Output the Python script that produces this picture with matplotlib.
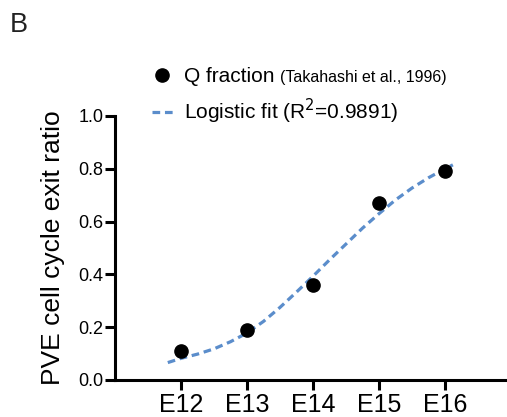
import matplotlib
matplotlib.use("Agg")
import matplotlib.pyplot as plt
import numpy as np

# ----------------- Data -----------------
stages = ["E12", "E13", "E14", "E15", "E16"]
stage_x = [12, 13, 14, 15, 16]
q_fraction = [0.11, 0.19, 0.36, 0.67, 0.79]

# logistic fit curve
fit_x = [11.8, 12.0, 12.25, 12.5, 12.75, 13.0, 13.25, 13.5, 13.75, 14.0,
         14.25, 14.5, 14.75, 15.0, 15.25, 15.5, 15.75, 16.0, 16.12]
fit_y = [0.066, 0.082, 0.098, 0.118, 0.145, 0.178, 0.222, 0.275, 0.333, 0.393,
         0.455, 0.515, 0.575, 0.630, 0.682, 0.727, 0.766, 0.800, 0.815]

R2 = 0.9891
FIT_COLOR = "#5B8DCB"

plt.rcParams["font.family"] = ["Liberation Sans", "DejaVu Sans"]

W, H = 507, 417
fig = plt.figure(figsize=(W / 100, H / 100), dpi=100)
ax = fig.add_axes([115 / W, (H - 380) / H, (W - 115) / W, (380 - 116) / H])

# ----------------- Marks -----------------
ax.plot(fit_x, fit_y, color=FIT_COLOR, linewidth=2.3, linestyle=(0, (2.4, 1.5)),
        label=f"Logistic fit (R$^2$={R2})", zorder=2)
ax.plot(stage_x, q_fraction, "o", color="black", markersize=9.5,
        linestyle="none", label="Q fraction", zorder=3)

# ----------------- Axes styling -----------------
ax.set_xlim(11, 16.94)
ax.set_ylim(0, 1.0)
ax.set_xticks(stage_x)
ax.set_xticklabels(stages)
ax.set_yticks([0.0, 0.2, 0.4, 0.6, 0.8, 1.0])
ax.set_yticklabels(["0.0", "0.2", "0.4", "0.6", "0.8", "1.0"])

for side in ["top", "right"]:
    ax.spines[side].set_visible(False)
for side in ["left", "bottom"]:
    ax.spines[side].set_linewidth(2.2)

ax.tick_params(axis="both", width=2.2, length=7, color="black")
ax.tick_params(axis="y", labelsize=13, pad=1.5)
ax.tick_params(axis="x", labelsize=18, pad=2.5)

ax.set_ylabel("PVE cell cycle exit ratio", fontsize=19)
ax.yaxis.set_label_coords(-0.128, 0.5)

# ----------------- Legend -----------------
handles, labels = ax.get_legend_handles_labels()
leg = ax.legend(handles[::-1], labels[::-1], loc="upper left",
                bbox_to_anchor=(152 / W, 1 - 67 / H), bbox_transform=fig.transFigure,
                frameon=False, fontsize=15, handlelength=1.0, handletextpad=0.55,
                labelspacing=0.5, borderpad=0, borderaxespad=0)

# smaller citation right after "Q fraction"
fig.canvas.draw()
bb = leg.get_texts()[0].get_window_extent()
fig.text((bb.x1 + 5) / W, (bb.y0 + 1) / H, "(Takahashi et al., 1996)",
         fontsize=11.5, ha="left", va="bottom")

# panel letter
fig.text(10 / W, 1 - 32 / H, "B", fontsize=19.5, ha="left", va="baseline", color="#222222")

fig.savefig("out.png", dpi=100)
